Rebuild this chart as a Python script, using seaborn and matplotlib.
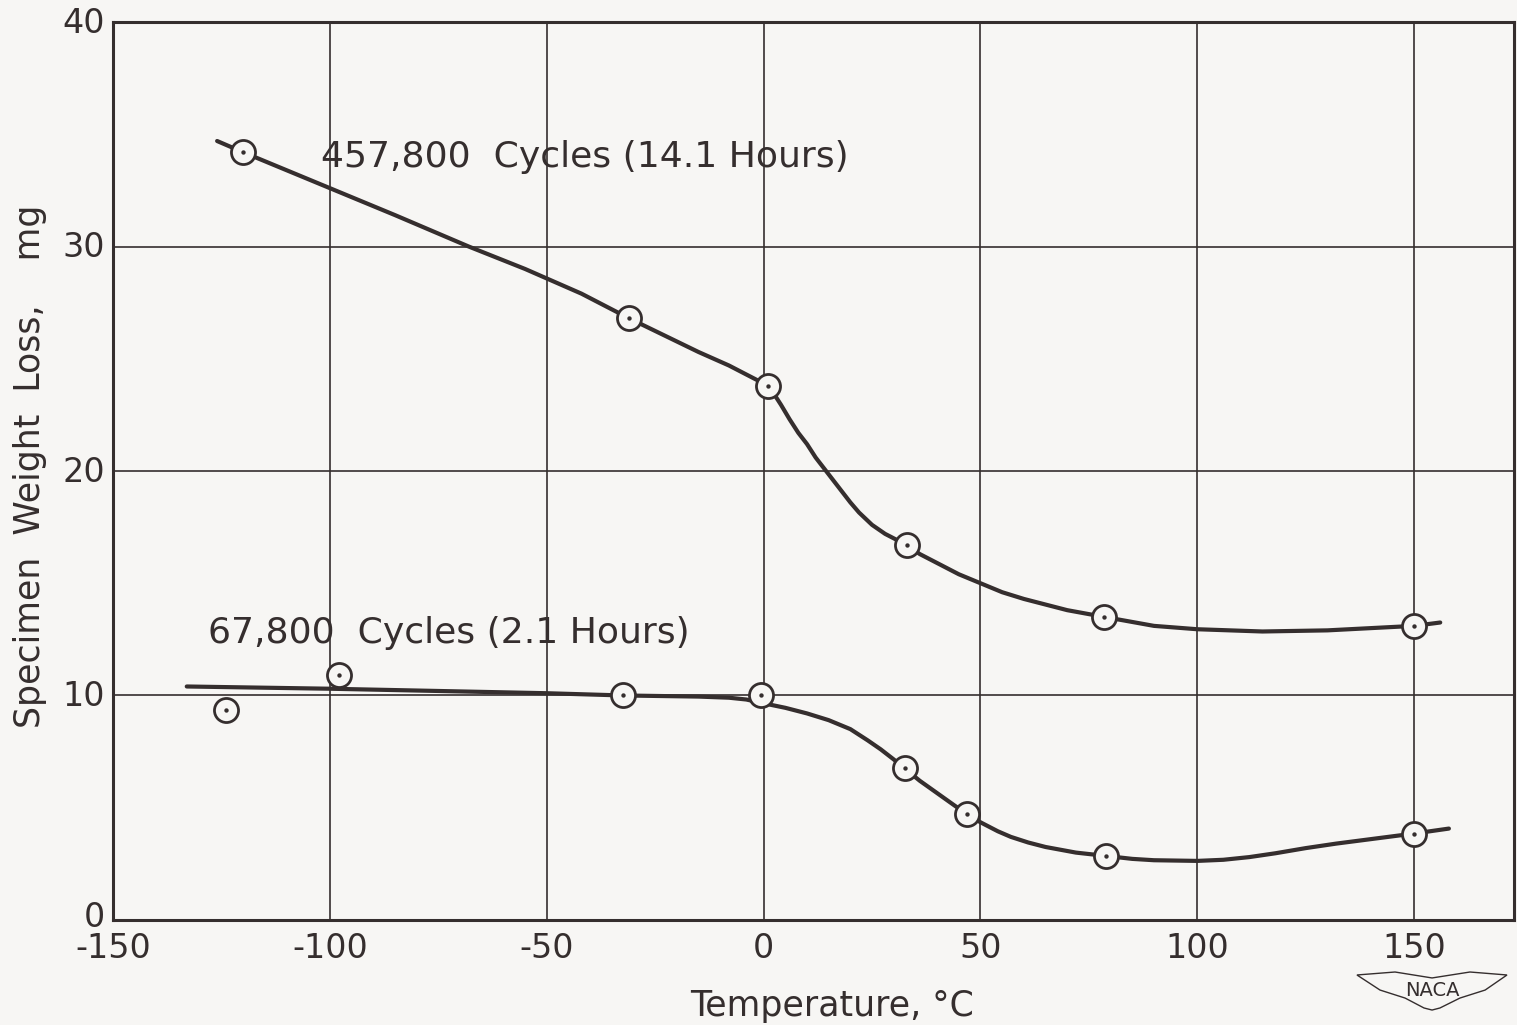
import matplotlib
matplotlib.use("Agg")
import matplotlib.pyplot as plt
from matplotlib.patches import Polygon
from matplotlib.transforms import ScaledTranslation
import seaborn as sns
import pandas as pd

# Measured weight loss (mg) at each test temperature (deg C)
long_temp = [-120, -31, 1, 33, 78.5, 150]
long_loss = [34.2, 26.8, 23.8, 16.7, 13.5, 13.1]

short_temp = [-124, -98, -32.5, -0.5, 32.5, 47, 79, 150]
short_loss = [9.35, 10.9, 10.0, 10.0, 6.75, 4.7, 2.85, 3.85]

# Faired curves drawn through each set of points
long_curve_temp = [-126, -120, -110, -100, -85, -68, -55, -42, -31, -23, -15,
                   -8, -3, 1, 2, 4, 6, 8, 10, 12, 14, 16, 18, 20, 22, 25, 28,
                   30, 33, 36, 40, 45, 50, 55, 60, 65, 70, 78.5, 90, 100, 115,
                   130, 140, 150, 156]
long_curve_loss = [34.7, 34.2, 33.4, 32.6, 31.4, 30.0, 29.0, 27.9, 26.8,
                   26.05, 25.3, 24.7, 24.2, 23.8, 23.55, 22.95, 22.3, 21.7,
                   21.2, 20.6, 20.1, 19.6, 19.1, 18.6, 18.15, 17.6, 17.2,
                   17.0, 16.7, 16.3, 15.9, 15.4, 15.0, 14.6, 14.3, 14.05,
                   13.8, 13.5, 13.1, 12.95, 12.85, 12.9, 13.0, 13.1, 13.25]

short_curve_temp = [-133, -100, -75, -50, -32.5, -15, -8, -4, 0, 5, 10, 15,
                    20, 24, 27, 30, 32.5, 36, 40, 44, 47, 50, 54, 57, 61, 65,
                    72, 79, 85, 90, 100, 106, 112, 118, 125, 132, 140, 150,
                    158]
short_curve_loss = [10.4, 10.3, 10.2, 10.1, 10.0, 9.95, 9.9, 9.82, 9.65,
                    9.45, 9.2, 8.9, 8.5, 8.0, 7.6, 7.15, 6.75, 6.2, 5.65,
                    5.1, 4.7, 4.35, 3.95, 3.7, 3.45, 3.25, 3.0, 2.85, 2.72,
                    2.66, 2.63, 2.68, 2.8, 2.97, 3.2, 3.4, 3.6, 3.85, 4.07]

x_ticks = [-150, -100, -50, 0, 50, 100, 150]
y_ticks = [0, 10, 20, 30, 40]

ink = "#352e2e"
paper = "#f7f6f4"
font = ["DejaVu Sans"]

sns.set_theme(style="white")
plt.rcParams["font.family"] = font
plt.rcParams["text.color"] = ink

fig = plt.figure(figsize=(15.17, 10.25), dpi=100, facecolor=paper)
ax = fig.add_axes([0.0745, 0.1025, 0.9235, 0.876])
ax.set_facecolor(paper)

curves = pd.concat([
    pd.DataFrame({"temp": long_curve_temp, "loss": long_curve_loss, "run": "long"}),
    pd.DataFrame({"temp": short_curve_temp, "loss": short_curve_loss, "run": "short"}),
])
points = pd.concat([
    pd.DataFrame({"temp": long_temp, "loss": long_loss}),
    pd.DataFrame({"temp": short_temp, "loss": short_loss}),
])

sns.lineplot(data=curves, x="temp", y="loss", units="run", estimator=None,
             sort=False, color=ink, linewidth=3.0, ax=ax, zorder=3)
sns.scatterplot(data=points, x="temp", y="loss", marker="o", s=300,
                facecolor=paper, edgecolor=ink, linewidth=2.0, ax=ax, zorder=4)
sns.scatterplot(data=points, x="temp", y="loss", marker="o", s=10,
                color=ink, linewidth=0, ax=ax, zorder=5)

ax.set_xlim(-150, 173)
ax.set_ylim(0, 40)
ax.set_xticks(x_ticks)
ax.set_yticks(y_ticks)
ax.set_xticklabels([str(v) for v in x_ticks])
ax.set_yticklabels([str(v) for v in y_ticks])
ax.grid(True, color=ink, linewidth=1.2)
ax.set_axisbelow(True)
for side in ax.spines.values():
    side.set_color(ink)
    side.set_linewidth(2.2)
    side.set_visible(True)
ax.tick_params(axis="both", length=0, colors=ink, labelsize=24)
ax.tick_params(axis="y", pad=6)
ax.tick_params(axis="x", pad=9)

# y labels sit a little above their grid lines, the zero a bit more
lift = ScaledTranslation(0, 1.5 / 72, fig.dpi_scale_trans)
for lab in ax.get_yticklabels():
    lab.set_transform(lab.get_transform() + lift)
zero_lift = ScaledTranslation(0, 3 / 72, fig.dpi_scale_trans)
ax.get_yticklabels()[0].set_transform(ax.get_yticklabels()[0].get_transform() + zero_lift)

ax.set_xlabel("Temperature, °C", fontsize=25, color=ink)
ax.xaxis.set_label_coords(0.513, -0.077)
ax.set_ylabel("Specimen  Weight  Loss,    mg", fontsize=25, color=ink)
ax.yaxis.set_label_coords(-0.047, 0.505)

ax.text(-102, 34.0, "457,800  Cycles (14.1 Hours)", fontsize=26, color=ink,
        va="center", ha="left", zorder=6)
ax.text(-128, 12.8, "67,800  Cycles (2.1 Hours)", fontsize=26, color=ink,
        va="center", ha="left", zorder=6)

# NACA wing emblem in the lower right corner
wing = Polygon([[0.8945, 0.0488], [0.9196, 0.0517], [0.944, 0.0459],
                [0.969, 0.0517], [0.9934, 0.0488], [0.979, 0.0341],
                [0.9624, 0.0263], [0.9492, 0.0166], [0.944, 0.0146],
                [0.9387, 0.0166], [0.9262, 0.0263], [0.9097, 0.0341]],
               closed=True, transform=fig.transFigure,
               facecolor="none", edgecolor=ink, linewidth=1.0)
fig.patches.append(wing)
fig.text(0.944, 0.034, "NACA", fontsize=14, color=ink, ha="center",
         va="center")

fig.savefig("out.png", dpi=100, facecolor=paper)
